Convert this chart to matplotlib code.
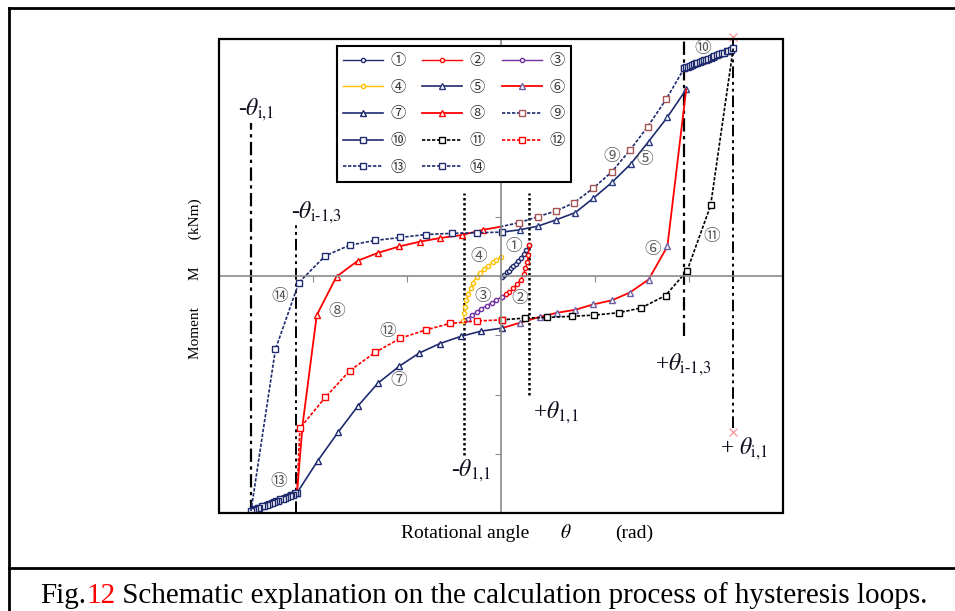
import matplotlib
matplotlib.use('Agg')
import matplotlib.pyplot as plt
from matplotlib.lines import Line2D
from matplotlib.patches import Rectangle

plt.rcParams['mathtext.fontset'] = 'stix'
plt.rcParams['font.family'] = ['Liberation Serif', 'Noto Sans CJK JP', 'DejaVu Sans']

W, H = 955, 611

# curve data: x = rotational angle, y = moment (both in tick units)
c1_x = [0.01, 0.03, 0.06, 0.09, 0.11, 0.13, 0.16, 0.18, 0.21, 0.24, 0.27, 0.30]
c1_y = [-0.02, 0.02, 0.06, 0.09, 0.13, 0.17, 0.21, 0.26, 0.31, 0.37, 0.44, 0.52]
c2_x = [0.30, 0.29, 0.28, 0.26, 0.24, 0.21, 0.17, 0.13, 0.09, 0.05, 0.01]
c2_y = [0.52, 0.35, 0.24, 0.13, 0.03, -0.06, -0.14, -0.21, -0.27, -0.31, -0.35]
c3_x = [0.01, -0.05, -0.10, -0.15, -0.21, -0.26, -0.31, -0.35, -0.39]
c3_y = [-0.35, -0.41, -0.45, -0.50, -0.55, -0.61, -0.66, -0.72, -0.76]
c4_x = [-0.40, -0.39, -0.38, -0.37, -0.35, -0.32, -0.30, -0.26, -0.22, -0.18, -0.14, -0.09, -0.05, 0.0]
c4_y = [-0.76, -0.63, -0.52, -0.41, -0.30, -0.21, -0.11, -0.02, 0.05, 0.11, 0.17, 0.23, 0.27, 0.32]
c5_x = [0.01, 0.20, 0.39, 0.59, 0.79, 0.98, 1.18, 1.38, 1.57, 1.77, 1.97]
c5_y = [0.74, 0.78, 0.84, 0.95, 1.07, 1.31, 1.58, 1.89, 2.27, 2.68, 3.15]
c6_x = [1.97, 1.77, 1.57, 1.37, 1.18, 0.98, 0.79, 0.60, 0.41, 0.20, 0.01]
c6_y = [3.15, 0.50, -0.06, -0.28, -0.41, -0.48, -0.57, -0.62, -0.69, -0.79, -0.88]
c7_x = [0.01, -0.21, -0.43, -0.65, -0.87, -1.08, -1.31, -1.52, -1.73, -1.95, -2.17]
c7_y = [-0.88, -0.93, -1.02, -1.14, -1.30, -1.52, -1.81, -2.19, -2.63, -3.12, -3.66]
c8_x = [-2.17, -2.11, -1.96, -1.75, -1.52, -1.31, -1.08, -0.86, -0.65, -0.42, -0.19, -0.01]
c8_y = [-3.66, -2.50, -0.66, -0.01, 0.26, 0.39, 0.50, 0.58, 0.64, 0.69, 0.78, 0.83]
c9_x = [-0.01, 0.19, 0.39, 0.59, 0.78, 0.98, 1.18, 1.37, 1.56, 1.76, 1.95]
c9_y = [0.83, 0.90, 1.00, 1.10, 1.24, 1.48, 1.76, 2.12, 2.52, 2.99, 3.51]
c10_x = [1.95, 1.97, 1.99, 2.01, 2.03, 2.05, 2.07, 2.09, 2.12, 2.14, 2.16, 2.18,
         2.20, 2.23, 2.25, 2.27, 2.30, 2.32, 2.35, 2.37, 2.40, 2.42, 2.45, 2.47]
c10_y = [3.51, 3.52, 3.53, 3.55, 3.56, 3.57, 3.59, 3.60, 3.61, 3.63, 3.64, 3.65,
         3.67, 3.68, 3.70, 3.71, 3.73, 3.74, 3.76, 3.77, 3.79, 3.80, 3.82, 3.84]
c11_x = [2.47, 2.23, 1.98, 1.75, 1.49, 1.25, 0.99, 0.75, 0.49, 0.26, 0.01]
c11_y = [3.84, 1.19, 0.09, -0.33, -0.54, -0.62, -0.66, -0.68, -0.70, -0.71, -0.74]
c12_x = [0.01, -0.26, -0.54, -0.80, -1.07, -1.34, -1.61, -1.87, -2.14, -2.17]
c12_y = [-0.74, -0.76, -0.80, -0.91, -1.05, -1.29, -1.60, -2.05, -2.57, -3.66]
c13_x = [-2.17, -2.19, -2.21, -2.23, -2.25, -2.28, -2.30, -2.32, -2.35, -2.37, -2.39,
         -2.42, -2.44, -2.47, -2.49, -2.52, -2.54, -2.57, -2.59, -2.62, -2.64, -2.66]
c13_y = [-3.66, -3.67, -3.69, -3.70, -3.71, -3.73, -3.74, -3.76, -3.77, -3.79, -3.80,
         -3.82, -3.83, -3.85, -3.86, -3.88, -3.89, -3.91, -3.92, -3.94, -3.95, -3.97]
c14_x = [-2.66, -2.40, -2.15, -1.87, -1.61, -1.34, -1.07, -0.80, -0.52, -0.26, 0.01]
c14_y = [-3.97, -1.24, -0.11, 0.34, 0.52, 0.60, 0.65, 0.70, 0.72, 0.73, 0.74]

labels = ['\u2460', '\u2461', '\u2462', '\u2463', '\u2464', '\u2465', '\u2466',
          '\u2467', '\u2468', '\u2469', '\u246a', '\u246b', '\u246c', '\u246d']

# reference angles: -th_i1, -th_i-1,3, -th_11, +th_11, +th_i-1,3, +th_i1
ref_x = [-2.66, -2.18, -0.39, 0.30, 1.95, 2.47]
ref_top = [2.58, 0.91, 1.40, 1.40, 4.0, 4.0]
ref_bot = [-4.0, -4.0, -3.02, -2.01, -1.01, -2.57]
ref_text = ['-$\\theta_{\\mathrm{i{,}1}}$', '-$\\theta_{\\mathrm{i\u20101{,}3}}$',
            '-$\\theta_{1{,}1}$', '+$\\theta_{1{,}1}$',
            '+$\\theta_{\\mathrm{i\u20101{,}3}}$', '+ $\\theta_{\\mathrm{i{,}1}}$']
end_x = [2.47, 2.47]
end_y = [4.03, -2.63]

NAVY = '#1f2b6e'
RED = '#ff0000'

fig = plt.figure(figsize=(W / 100, H / 100), dpi=100)
ax = fig.add_axes([219 / W, 1 - 513 / H, 564 / W, 474 / H])
ax.set_xlim(-3, 3)
ax.set_ylim(-4, 4)

# crosshair axes through the origin
for s in ['top', 'right']:
    ax.spines[s].set_visible(False)
ax.spines['left'].set_position(('data', 0))
ax.spines['bottom'].set_position(('data', 0))
for s in ['left', 'bottom']:
    ax.spines[s].set_color('#8a8a8a')
    ax.spines[s].set_linewidth(1.2)
ax.set_xticks([-2, -1, 1, 2])
ax.set_yticks([-3, -2, -1, 1, 2, 3])
ax.tick_params(direction='out', length=4, color='#8a8a8a', labelbottom=False, labelleft=False)
ax.add_patch(Rectangle((0, 0), 1, 1, transform=ax.transAxes, fill=False,
                       ec='black', lw=1.6, clip_on=False, zorder=5))

# reference lines
ax.vlines(ref_x[0], ref_bot[0], ref_top[0], color='black', lw=1.6, ls=(0, (6, 2, 1.5, 2)))
ax.vlines(ref_x[1], ref_bot[1], ref_top[1], color='black', lw=1.4, ls=(0, (6, 2, 1.5, 2, 1.5, 2)))
ax.vlines(ref_x[2:4], ref_bot[2:4], ref_top[2:4], color='black', lw=1.8, ls=(0, (1, 1)))
ax.vlines(ref_x[4], ref_bot[4], ref_top[4], color='black', lw=1.6, ls=(0, (6, 2, 1.5, 2)))
ax.vlines(ref_x[5], ref_bot[5], ref_top[5], color='black', lw=1.4, ls=(0, (6, 2, 1.5, 2, 1.5, 2)))

ms = 5
ax.plot(c1_x, c1_y, color=NAVY, lw=1, marker='o', ms=3, mfc='white', mec=NAVY, label=labels[0])
ax.plot(c2_x, c2_y, color=RED, lw=1, marker='o', ms=3, mfc='white', mec=RED, label=labels[1])
ax.plot(c3_x, c3_y, color='#7030a0', lw=1, marker='o', ms=3, mfc='white', mec='#7030a0', label=labels[2])
ax.plot(c4_x, c4_y, color='#ffc000', lw=1, marker='o', ms=3, mfc='white', mec='#ffc000', label=labels[3])
ax.plot(c5_x, c5_y, color=NAVY, lw=1.2, marker='^', ms=ms, mfc='white', mec='#2b3a80', label=labels[4])
ax.plot(c6_x, c6_y, color=RED, lw=1.3, marker='^', ms=ms, mfc='white', mec='#6b5fa5',
        markevery=slice(1, 10), label=labels[5])
ax.plot(c7_x, c7_y, color=NAVY, lw=1.2, marker='^', ms=ms, mfc='white', mec=NAVY, label=labels[6])
ax.plot(c8_x, c8_y, color=RED, lw=1.3, marker='^', ms=ms, mfc='white', mec=RED,
        markevery=slice(2, 11), label=labels[7])
ax.plot(c9_x, c9_y, color=NAVY, lw=1.2, ls=(0, (2, 1)), marker='s', ms=ms, mfc='white',
        mec='#a65353', markevery=slice(1, 11), label=labels[8])
ax.plot(c10_x, c10_y, color=NAVY, lw=1.2, marker='s', ms=4.5, mfc='white', mec=NAVY, label=labels[9])
ax.plot(c11_x, c11_y, color='black', lw=1.2, ls=(0, (2, 1)), marker='s', ms=ms, mfc='white',
        mec='black', markevery=slice(1, 11), label=labels[10])
ax.plot(c12_x, c12_y, color=RED, lw=1.2, ls=(0, (2, 1)), marker='s', ms=ms, mfc='white',
        mec=RED, markevery=slice(0, 9), label=labels[11])
ax.plot(c13_x, c13_y, color=NAVY, lw=1.2, ls=(0, (2, 1)), marker='s', ms=4.5, mfc='white',
        mec=NAVY, label=labels[12])
ax.plot(c14_x, c14_y, color=NAVY, lw=1.2, ls=(0, (2, 1)), marker='s', ms=ms, mfc='white',
        mec=NAVY, markevery=slice(1, 11), label=labels[13])
ax.plot(end_x, end_y, ls='none', marker='x', ms=6, color='#f4a0a0', clip_on=False)

# reference labels
ref_pos = [(-2.80, 2.80), (-2.23, 1.06), (-0.53, -3.29), (0.34, -2.31), (1.64, -1.50), (2.33, -2.92)]
for (tx, ty), t in zip(ref_pos, ref_text):
    ax.text(tx, ty, t, fontsize=17, ha='left', va='center', color='#101020')

# circled step numbers on the curves
num_pos = [(0.14, 0.50), (0.20, -0.38), (-0.19, -0.35), (-0.24, 0.33), (1.53, 1.96),
           (1.61, 0.44), (-1.09, -1.77), (-1.75, -0.60), (1.18, 2.01), (2.15, 3.84),
           (2.24, 0.66), (-1.20, -0.94), (-2.37, -3.47), (-2.35, -0.35)]
for (tx, ty), t in zip(num_pos, labels):
    ax.text(tx, ty, t, fontsize=12, ha='center', va='center', color='#555555',
            family='Noto Sans CJK JP')

handles, labs = ax.get_legend_handles_labels()
order = [0, 3, 6, 9, 12, 1, 4, 7, 10, 13, 2, 5, 8, 11]
leg = ax.legend([handles[i] for i in order], [labs[i] for i in order], ncol=3,
                loc='upper left', bbox_to_anchor=(0.209, 0.985), borderaxespad=0,
                fancybox=False, edgecolor='black', framealpha=1,
                prop={'family': 'Noto Sans CJK JP', 'size': 11},
                handlelength=2.6, handletextpad=0.5, columnspacing=1.1, labelspacing=0.63,
                borderpad=0.4)
leg.get_frame().set_linewidth(1.5)
leg.set_zorder(6)
for t in leg.get_texts():
    t.set_color('#333333')

# axis titles
fig.text(195 / W, 1 - 279 / H, 'Moment       M       (kNm)', rotation=90, ha='center',
         va='center', fontsize=11)
fig.text(401 / W, 1 - 533 / H, 'Rotational angle', ha='left', va='center', fontsize=14)
fig.text(566 / W, 1 - 533 / H, '$\\theta$', ha='center', va='center', fontsize=14)
fig.text(615 / W, 1 - 533 / H, '(rad)', ha='left', va='center', fontsize=14)

# figure frame and caption
fig.add_artist(Line2D([9 / W, 9 / W], [0, 1 - 8 / H], color='black', lw=2))
fig.add_artist(Line2D([9 / W, 1], [1 - 8 / H, 1 - 8 / H], color='black', lw=2))
fig.add_artist(Line2D([9 / W, 1], [1 - 568 / H, 1 - 568 / H], color='black', lw=2))

fig.canvas.draw()
r = fig.canvas.get_renderer()
x = 40
for txt, col in [('Fig.', 'black'), ('12', RED),
                 (' Schematic explanation on the calculation process of hysteresis loops.', 'black')]:
    t = fig.text(x / W, 1 - 603 / H, txt, color=col, fontsize=21, ha='left', va='baseline')
    x += t.get_window_extent(r).width

fig.savefig('out.png', dpi=100)
